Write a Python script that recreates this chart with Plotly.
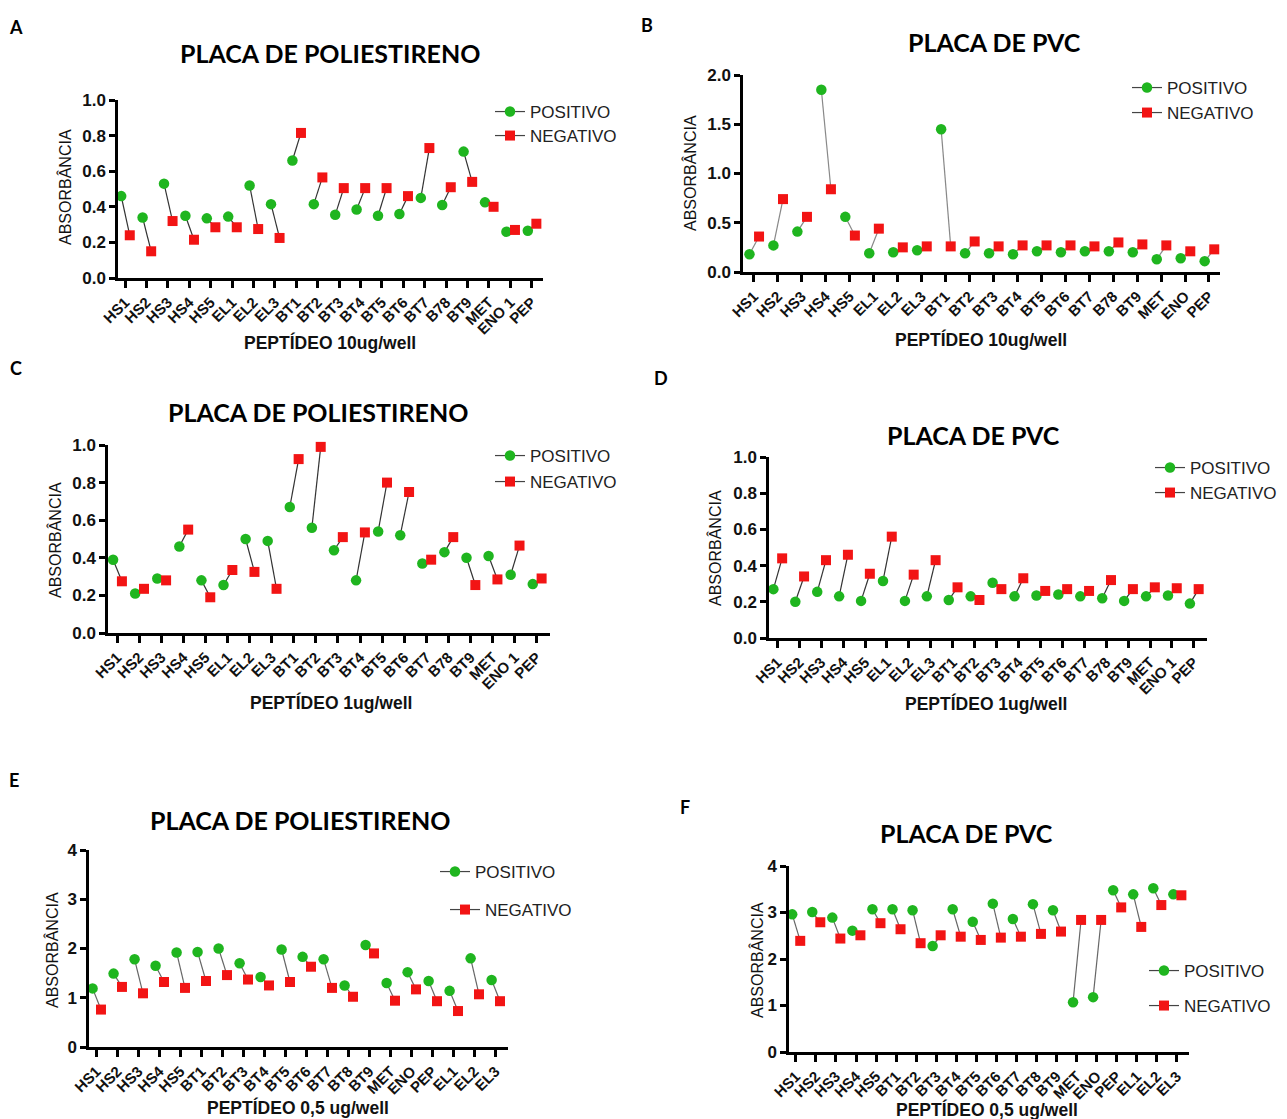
import plotly.graph_objects as go

W, H = 1287, 1119

# ---------------- DATA ----------------
cats_a = ["HS1", "HS2", "HS3", "HS4", "HS5", "EL1", "EL2", "EL3", "BT1", "BT2",
          "BT3", "BT4", "BT5", "BT6", "BT7", "B78", "BT9", "MET", "ENO 1", "PEP"]
pos_a = [0.46, 0.34, 0.53, 0.35, 0.335, 0.345, 0.52, 0.415, 0.66, 0.415,
         0.355, 0.385, 0.35, 0.36, 0.45, 0.41, 0.71, 0.425, 0.26, 0.265]
neg_a = [0.24, 0.15, 0.32, 0.215, 0.285, 0.285, 0.275, 0.225, 0.815, 0.565,
         0.505, 0.505, 0.505, 0.46, 0.73, 0.51, 0.54, 0.40, 0.27, 0.305]

cats_b = ["HS1", "HS2", "HS3", "HS4", "HS5", "EL1", "EL2", "EL3", "BT1", "BT2",
          "BT3", "BT4", "BT5", "BT6", "BT7", "B78", "BT9", "MET", "ENO", "PEP"]
pos_b = [0.18, 0.27, 0.41, 1.85, 0.56, 0.19, 0.20, 0.22, 1.45, 0.19,
         0.19, 0.18, 0.21, 0.20, 0.21, 0.21, 0.20, 0.13, 0.14, 0.11]
neg_b = [0.36, 0.74, 0.56, 0.84, 0.37, 0.44, 0.25, 0.26, 0.26, 0.31,
         0.26, 0.27, 0.27, 0.27, 0.26, 0.30, 0.28, 0.27, 0.21, 0.23]

cats_c = ["HS1", "HS2", "HS3", "HS4", "HS5", "EL1", "EL2", "EL3", "BT1", "BT2",
          "BT3", "BT4", "BT5", "BT6", "BT7", "B78", "BT9", "MET", "ENO 1", "PEP"]
pos_c = [0.39, 0.21, 0.29, 0.46, 0.28, 0.255, 0.50, 0.49, 0.67, 0.56,
         0.44, 0.28, 0.54, 0.52, 0.37, 0.43, 0.40, 0.41, 0.31, 0.26]
neg_c = [0.275, 0.235, 0.28, 0.55, 0.19, 0.335, 0.325, 0.235, 0.925, 0.99,
         0.51, 0.535, 0.80, 0.75, 0.39, 0.51, 0.255, 0.285, 0.465, 0.29]

cats_d = ["HS1", "HS2", "HS3", "HS4", "HS5", "EL1", "EL2", "EL3", "BT1", "BT2",
          "BT3", "BT4", "BT5", "BT6", "BT7", "B78", "BT9", "MET", "ENO 1", "PEP"]
pos_d = [0.27, 0.20, 0.255, 0.23, 0.205, 0.315, 0.205, 0.23, 0.21, 0.23,
         0.305, 0.23, 0.235, 0.24, 0.23, 0.22, 0.205, 0.23, 0.235, 0.19]
neg_d = [0.44, 0.34, 0.43, 0.46, 0.355, 0.56, 0.35, 0.43, 0.28, 0.21,
         0.27, 0.33, 0.26, 0.27, 0.26, 0.32, 0.27, 0.28, 0.275, 0.27]

cats_e = ["HS1", "HS2", "HS3", "HS4", "HS5", "BT1", "BT2", "BT3", "BT4", "BT5",
          "BT6", "BT7", "BT8", "BT9", "MET", "ENO", "PEP", "EL1", "EL2", "EL3"]
pos_e = [1.19, 1.49, 1.78, 1.65, 1.92, 1.93, 2.00, 1.70, 1.42, 1.98,
         1.83, 1.78, 1.25, 2.07, 1.30, 1.52, 1.34, 1.14, 1.80, 1.36]
neg_e = [0.76, 1.22, 1.09, 1.32, 1.20, 1.34, 1.46, 1.37, 1.25, 1.32,
         1.63, 1.20, 1.02, 1.90, 0.94, 1.17, 0.93, 0.73, 1.07, 0.93]

cats_f = ["HS1", "HS2", "HS3", "HS4", "HS5", "BT1", "BT2", "BT3", "BT4", "BT5",
          "BT6", "BT7", "BT8", "BT9", "MET", "ENO", "PEP", "EL1", "EL2", "EL3"]
pos_f = [2.96, 3.01, 2.89, 2.61, 3.07, 3.07, 3.05, 2.28, 3.07, 2.80,
         3.19, 2.86, 3.18, 3.05, 1.07, 1.18, 3.48, 3.39, 3.52, 3.39]
neg_f = [2.39, 2.79, 2.44, 2.51, 2.77, 2.64, 2.34, 2.51, 2.48, 2.41,
         2.46, 2.48, 2.54, 2.59, 2.84, 2.84, 3.11, 2.69, 3.16, 3.37]

series_names = ["POSITIVO", "NEGATIVO"]
panel_titles = ["PLACA DE POLIESTIRENO", "PLACA DE PVC", "PLACA DE POLIESTIRENO",
                "PLACA DE PVC", "PLACA DE POLIESTIRENO", "PLACA DE PVC"]
panel_letters = ["A", "B", "C", "D", "E", "F"]
x_titles = ["PEPTÍDEO 10ug/well", "PEPTÍDEO 10ug/well", "PEPTÍDEO 1ug/well",
            "PEPTÍDEO 1ug/well", "PEPTÍDEO 0,5 ug/well", "PEPTÍDEO 0,5 ug/well"]
y_title = "ABSORBÂNCIA"
y_ticks = [[0, 0.2, 0.4, 0.6, 0.8, 1.0], [0, 0.5, 1.0, 1.5, 2.0],
           [0, 0.2, 0.4, 0.6, 0.8, 1.0], [0, 0.2, 0.4, 0.6, 0.8, 1.0],
           [0, 1, 2, 3, 4], [0, 1, 2, 3, 4]]

panels_data = [(cats_a, pos_a, neg_a), (cats_b, pos_b, neg_b), (cats_c, pos_c, neg_c),
               (cats_d, pos_d, neg_d), (cats_e, pos_e, neg_e), (cats_f, pos_f, neg_f)]

# ---------------- LAYOUT GEOMETRY (pixels) ----------------
geom = [
    dict(x0=118, x1=543, yt=100, yb=278, xr=[-0.33, 19.53], yr=[0, 1.0], fmt=".1f",
         title=(330, 53), letter=(16, 27), xt=(330, 342), yt_=(65, 187),
         leg=[(508, 112), (508, 136)], lcol="#333"),
    dict(x0=743, x1=1220, yt=75, yb=272, xr=[-0.45, 19.46], yr=[0, 2.0], fmt=".1f",
         title=(995, 42), letter=(647, 25), xt=(981, 339), yt_=(690, 173),
         leg=[(1145, 88), (1145, 113)], lcol="#888"),
    dict(x0=108, x1=550, yt=445, yb=633, xr=[-0.41, 19.6], yr=[0, 1.0], fmt=".1f",
         title=(318, 412), letter=(16, 368), xt=(331, 702), yt_=(55, 540),
         leg=[(508, 456), (508, 482)], lcol="#333"),
    dict(x0=769, x1=1207, yt=457, yb=638, xr=[-0.38, 19.6], yr=[0, 1.0], fmt=".1f",
         title=(974, 435), letter=(661, 378), xt=(986, 703), yt_=(715, 548),
         leg=[(1168, 468), (1168, 493)], lcol="#333"),
    dict(x0=89, x1=508, yt=850, yb=1047, xr=[-0.35, 19.6], yr=[0, 4], fmt="d",
         title=(300, 820), letter=(14, 780), xt=(298, 1107), yt_=(52, 950),
         leg=[(453, 872), (463, 910)], lcol="#666"),
    dict(x0=789, x1=1189, yt=866, yb=1052, xr=[-0.34, 19.6], yr=[0, 4], fmt="d",
         title=(966, 833), letter=(685, 807), xt=(987, 1109), yt_=(757, 960),
         leg=[(1162, 971), (1162, 1006)], lcol="#666"),
]

GREEN = "#1FB51F"
RED = "#F21414"
DP, DN = -0.18, 0.22
ARIAL = "Liberation Sans, Arial, sans-serif"


def px(x):
    return x / W


def py(y):
    return 1 - y / H


fig = go.Figure()
layout = dict(width=W, height=H,
              margin=dict(l=0, r=0, t=0, b=0, pad=0, autoexpand=False),
              paper_bgcolor="white", plot_bgcolor="white", showlegend=True,
              annotations=[])

tick_font = dict(family=ARIAL, size=15, color="#111")
ytick_font = dict(family=ARIAL, size=17, color="#111")
leg_idx = 0
for k, ((cats, pos, neg), g) in enumerate(zip(panels_data, geom)):
    n = k + 1
    xa = "x" if n == 1 else f"x{n}"
    ya = "y" if n == 1 else f"y{n}"
    xkey = "xaxis" if n == 1 else f"xaxis{n}"
    ykey = "yaxis" if n == 1 else f"yaxis{n}"
    idx = list(range(len(cats)))

    cx, cy = [], []
    for i in idx:
        cx += [i + DP, i + DN, None]
        cy += [pos[i], neg[i], None]
    fig.add_trace(go.Scatter(x=cx, y=cy, mode="lines", xaxis=xa, yaxis=ya,
                             line=dict(color=g["lcol"], width=1.2),
                             showlegend=False, hoverinfo="skip", cliponaxis=False))

    for s, (vals, off, col, sym, sz) in enumerate(
            [(pos, DP, GREEN, "circle", 10.5), (neg, DN, RED, "square", 10)]):
        leg_idx += 1
        lname = "legend" if leg_idx == 1 else f"legend{leg_idx}"
        sx, sy = [], []
        for i in idx:
            sx += [i + off, None]
            sy += [vals[i], None]
        fig.add_trace(go.Scatter(
            x=sx, y=sy, mode="lines+markers", xaxis=xa, yaxis=ya,
            name=series_names[s], legend=lname, connectgaps=False,
            line=dict(color="#444", width=1.2),
            marker=dict(color=col, symbol=sym, size=sz, line=dict(width=0)),
            cliponaxis=False))
        lx, ly = g["leg"][s]
        layout[lname] = dict(x=px(lx - 18), y=py(ly), xanchor="left", yanchor="middle",
                             bgcolor="rgba(0,0,0,0)", borderwidth=0,
                             font=dict(family=ARIAL, size=17, color="#222"),
                             itemwidth=30)

    layout[xkey] = dict(domain=[px(g["x0"]), px(g["x1"])], range=g["xr"], anchor=ya,
                        tickmode="array", tickvals=idx,
                        ticktext=[f"<b>{c}</b>" for c in cats],
                        tickangle=-45, tickfont=tick_font,
                        showline=True, linecolor="black", linewidth=2.5,
                        ticks="outside", ticklen=7, tickwidth=2.5, tickcolor="black",
                        showgrid=False, zeroline=False, fixedrange=True, automargin=False)
    layout[ykey] = dict(domain=[py(g["yb"]), py(g["yt"])], range=g["yr"], anchor=xa,
                        tickmode="array", tickvals=y_ticks[k],
                        ticktext=[f"<b>{v:.1f}</b>" if g["fmt"] == ".1f" else f"<b>{int(v)}</b>"
                                  for v in y_ticks[k]],
                        tickfont=ytick_font,
                        showline=True, linecolor="black", linewidth=2.5,
                        ticks="outside", ticklen=6, tickwidth=2.5, tickcolor="black",
                        showgrid=False, zeroline=False, fixedrange=True, automargin=False)

    ann = layout["annotations"]
    ann.append(dict(text=f"<b>{panel_titles[k]}</b>", x=px(g["title"][0]), y=py(g["title"][1]),
                    xref="paper", yref="paper", showarrow=False, xanchor="center", yanchor="middle",
                    font=dict(family="Lato, sans-serif", size=25, color="black")))
    ann.append(dict(text=f"<b>{panel_letters[k]}</b>", x=px(g["letter"][0]), y=py(g["letter"][1]),
                    xref="paper", yref="paper", showarrow=False, xanchor="center", yanchor="middle",
                    font=dict(family="Lato, sans-serif", size=18, color="black")))
    ann.append(dict(text=f"<b>{x_titles[k]}</b>", x=px(g["xt"][0]), y=py(g["xt"][1]),
                    xref="paper", yref="paper", showarrow=False, xanchor="center", yanchor="middle",
                    font=dict(family=ARIAL, size=17.5, color="#111")))
    ann.append(dict(text=y_title, x=px(g["yt_"][0]), y=py(g["yt_"][1]), textangle=-90,
                    xref="paper", yref="paper", showarrow=False, xanchor="center", yanchor="middle",
                    font=dict(family=ARIAL, size=16, color="#111")))

fig.update_layout(**layout)
fig.write_html("out.html")
